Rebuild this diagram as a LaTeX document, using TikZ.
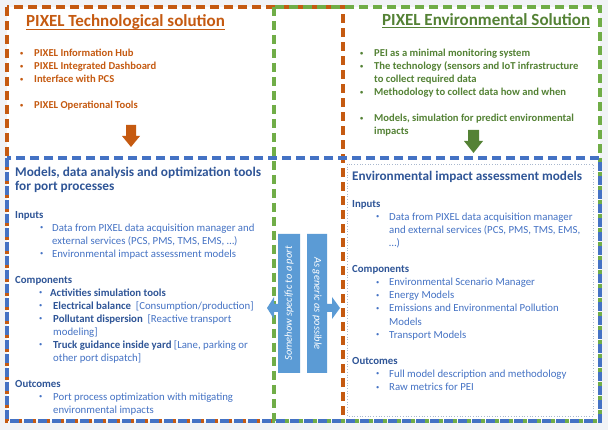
\documentclass[tikz,border=0pt]{standalone}
\usepackage{fontspec}
\usepackage{graphicx}
\setmainfont{Carlito}
\usetikzlibrary{calc}

\definecolor{pxorange}{HTML}{C55A11}
\definecolor{pxgreen}{HTML}{548235}
\definecolor{pxgreenline}{HTML}{70AD47}
\definecolor{pxblue}{HTML}{4472C4}
\definecolor{pxdark}{HTML}{2F5597}
\definecolor{pxarrow}{HTML}{5B9BD5}
\definecolor{pxdot}{HTML}{A9B8CE}
\definecolor{pxback}{HTML}{F1F3F6}

\newcommand{\bul}{\raisebox{0.3ex}{\scalebox{0.6}{\textbullet}}}
\newcommand{\itm}[2][15pt]{\makebox[#1][l]{\hspace*{1pt}\bul}#2}

\begin{document}
\begin{tikzpicture}[x=1pt,y=-1pt,
  box/.style={line width=3.2pt, dash pattern=on 9pt off 5pt},
  txt/.style={inner sep=0pt, anchor=north west, align=left, font=\fontsize{10.8}{13}\selectfont},
  head/.style={inner sep=0pt, anchor=base west, font=\bfseries\fontsize{17}{20}\selectfont},
  subhead/.style={inner sep=0pt, anchor=north west, align=left, text=pxdark, font=\bfseries\fontsize{13.3}{14}\selectfont},
  side/.style={inner sep=0pt, text=white, font=\itshape\fontsize{10.5}{12}\selectfont}]

\useasboundingbox (0,0) rectangle (608,430);
\fill[pxback] (0,0) rectangle (608,430);
\fill[white] (7,7) rectangle (600,421);

% dashed frames
\draw[box, pxorange] (7,7) rectangle (343,421);
\draw[box, pxgreenline] (274,7) rectangle (600,421);
\draw[box, pxblue] (7,158) rectangle (600,421);
\draw[pxdot, dotted, line width=0.7pt] (347,164) rectangle (593,416);

% top left
\node[head, text=pxorange] (ttech) at (26,26.5) {PIXEL Technological solution};
\draw[pxorange, line width=1.1pt] ($(ttech.base west)+(0,2.6)$) -- ($(ttech.base east)+(0,2.6)$);
\node[txt, text=pxorange, font=\bfseries\fontsize{10.6}{13}\selectfont] (ltech) at (19,47.4)
  {\strut\itm{PIXEL Information Hub}\\
   \itm{PIXEL Integrated Dashboard}\\
   \itm{Interface with PCS}\\[13pt]
   \itm{PIXEL Operational Tools}};
\fill[pxorange] (126,125) -- (136,125) -- (136,136) -- (140,136) -- (131,147) -- (122,136) -- (126,136) -- cycle;

% top right
\node[head, text=pxgreen] (tenv) at (382,25.5) {PIXEL Environmental Solution};
\draw[pxgreen, line width=1.1pt] ($(tenv.base west)+(0,2.2)$) -- ($(tenv.base east)+(0,2.2)$);
\node[txt, text=pxgreen, font=\bfseries\fontsize{10.6}{13}\selectfont] (lenv) at (359,47.4)
  {\strut\itm{PEI as a minimal monitoring system}\\
   \itm{The technology (sensors and IoT infrastructure}\\
   \hspace*{15pt}to collect required data\\
   \itm{Methodology to collect data how and when}\\[13pt]
   \itm{Models, simulation for predict environmental}\\
   \hspace*{15pt}impacts};
\fill[pxgreen] (468,130) -- (479,130) -- (479,141) -- (483,141) -- (473.5,153) -- (464,141) -- (468,141) -- cycle;

% bottom left
\node[subhead] (tmodels) at (15,166.9) {\strut Models, data analysis and optimization tools\\for port processes};
\node[txt, text=pxblue] (lmodels) at (15,208.9)
  {\strut\textcolor{pxdark}{\textbf{Inputs}}\\
   \hspace*{24pt}\itm[13pt]{Data from PIXEL data acquisition manager and}\\
   \hspace*{37pt}external services (PCS, PMS, TMS, EMS, \dots)\\
   \hspace*{24pt}\itm[13pt]{Environmental impact assessment models}\\[13pt]
   \textcolor{pxdark}{\textbf{Components}}\\
   \hspace*{23pt}\itm[12pt]{\textcolor{pxdark}{\textbf{Activities simulation tools}}}\\
   \hspace*{23pt}\itm[15pt]{\textcolor{pxdark}{\textbf{Electrical balance}}\ \ [Consumption/production]}\\
   \hspace*{23pt}\itm[15pt]{\textcolor{pxdark}{\textbf{Pollutant dispersion}}\ \ [Reactive transport}\\
   \hspace*{38pt}modeling]\\
   \hspace*{23pt}\itm[15pt]{\textcolor{pxdark}{\textbf{Truck guidance inside yard}} [Lane, parking or}\\
   \hspace*{38pt}other port dispatch]\\[13pt]
   \textcolor{pxdark}{\textbf{Outcomes}}\\
   \hspace*{23pt}\itm[15pt]{Port process optimization with mitigating}\\
   \hspace*{38pt}environmental impacts};

% bottom right
\node[subhead, anchor=base west, font=\bfseries\fontsize{13.2}{14}\selectfont] (tassess) at (352,180.7) {Environmental impact assessment models};
\node[txt, text=pxblue, font=\fontsize{10.8}{13.1}\selectfont] (lassess) at (352,197.8)
  {\strut\textcolor{pxdark}{\textbf{Inputs}}\\
   \hspace*{23pt}\itm[14pt]{Data from PIXEL data acquisition manager}\\
   \hspace*{37pt}and external services (PCS, PMS, TMS, EMS,\\
   \hspace*{37pt}\dots)\\[13.1pt]
   \textcolor{pxdark}{\textbf{Components}}\\
   \hspace*{23pt}\itm[14pt]{Environmental Scenario Manager}\\
   \hspace*{23pt}\itm[14pt]{Energy Models}\\
   \hspace*{23pt}\itm[14pt]{Emissions and Environmental Pollution}\\
   \hspace*{37pt}Models\\
   \hspace*{23pt}\itm[14pt]{Transport Models}\\[13.1pt]
   \textcolor{pxdark}{\textbf{Outcomes}}\\
   \hspace*{23pt}\itm[14pt]{Full model description and methodology}\\
   \hspace*{23pt}\itm[14pt]{Raw metrics for PEI}};

% side arrows
\fill[pxarrow] (278,234) -- (300,234) -- (300,373) -- (278,373) -- (278,312) -- (274,312) -- (274,319)
  -- (267,308) -- (274,297) -- (274,304) -- (278,304) -- cycle;
\fill[pxarrow] (327,234) -- (307,234) -- (307,373) -- (327,373) -- (327,312) -- (332,312) -- (332,319)
  -- (340,308) -- (332,297) -- (332,304) -- (327,304) -- cycle;
\node[side, rotate=90] (lspec) at (289,303.5) {Somehow specific to a port};
\node[side, rotate=-90] (lgen) at (317,303.5) {As generic as possible};

\end{tikzpicture}
\end{document}
